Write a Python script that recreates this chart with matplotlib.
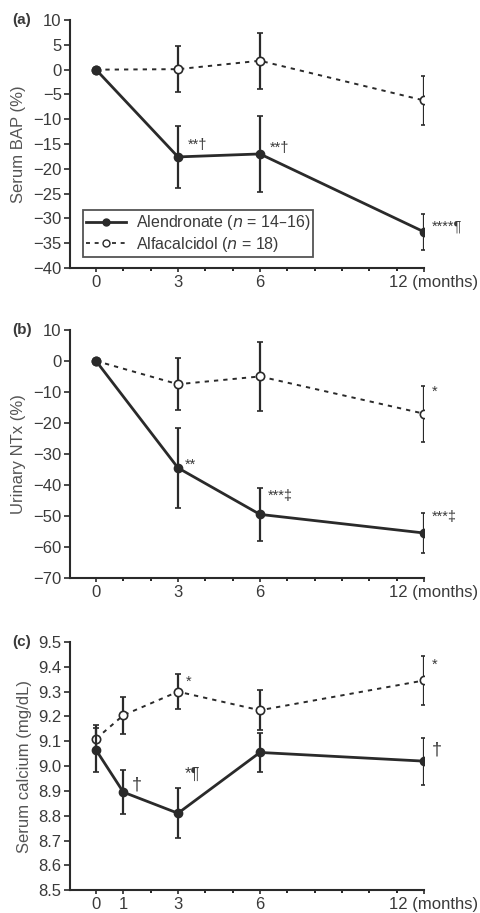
import numpy as np
import matplotlib.pyplot as plt
from matplotlib.ticker import MultipleLocator
from matplotlib.lines import Line2D

plt.rcParams['font.family'] = ['Liberation Sans Narrow', 'Liberation Sans', 'DejaVu Sans']

# months
months_ab = [0, 3, 6, 12]
months_c = [0, 1, 3, 6, 12]

# (a) serum BAP (%)
bap_alen = [0, -17.6, -17.0, -32.7]
bap_alen_err = [0, 6.2, 7.6, 3.6]
bap_alfa = [0, 0.1, 1.8, -6.2]
bap_alfa_err = [0, 4.6, 5.6, 4.9]

# (b) urinary NTx (%)
ntx_alen = [0, -34.5, -49.5, -55.5]
ntx_alen_err = [0, 13.0, 8.5, 6.5]
ntx_alfa = [0, -7.5, -5.0, -17.0]
ntx_alfa_err = [0, 8.3, 11.0, 9.0]

# (c) serum calcium (mg/dL)
ca_alen = [9.065, 8.895, 8.81, 9.055, 9.02]
ca_alen_err = [0.09, 0.09, 0.1, 0.08, 0.095]
ca_alfa = [9.11, 9.205, 9.30, 9.225, 9.345]
ca_alfa_err = [0.055, 0.075, 0.07, 0.08, 0.1]

dark = '#2a2a2a'
txt = '#3a3a3a'
dash = (0, (2.2, 2.6))

fig = plt.figure(figsize=(4.8, 9.13), dpi=100)
fig.patch.set_facecolor('white')

ax_a = fig.add_axes([0.146, 0.7065, 0.737, 0.2715])
ax_b = fig.add_axes([0.146, 0.367, 0.737, 0.2716])
ax_c = fig.add_axes([0.146, 0.025, 0.737, 0.2718])


def style(ax, ylim, ystep, xt, ylabel, tag, fmt):
    ax.set_xlim(-0.95, 12)
    ax.set_ylim(*ylim)
    ax.spines['top'].set_visible(False)
    ax.spines['right'].set_visible(False)
    for s in ['left', 'bottom']:
        ax.spines[s].set_color(dark)
        ax.spines[s].set_linewidth(1.5)
    ax.set_yticks(np.arange(ylim[0], ylim[1] + ystep / 2, ystep))
    ax.yaxis.set_major_formatter(fmt)
    ax.set_xticks(xt)
    # the last tick gets its label together with the unit, drawn below
    ax.set_xticklabels([str(v) for v in xt[:-1]] + [''])
    ax.xaxis.set_minor_locator(MultipleLocator(1))
    ax.tick_params(axis='both', colors=dark, labelcolor=txt, labelsize=12, width=1.2)
    ax.tick_params(axis='y', length=4, pad=2)
    ax.tick_params(axis='x', which='major', length=3, pad=2)
    ax.tick_params(axis='x', which='minor', length=2.5, width=1.2)
    ax.set_ylabel(ylabel, fontsize=12, color='#555555', labelpad=5)
    pos = ax.get_position()
    fig.text(12 / 480, pos.y1, tag, fontsize=11, fontweight='bold',
             color=txt, ha='left', va='center')
    fig.text(478 / 480, pos.y0 - 7 / 913, str(xt[-1]) + ' (months)', fontsize=12,
             color=txt, ha='right', va='top')


def draw(ax, x, alen, alen_err, alfa, alfa_err):
    ax.errorbar(x, alfa, yerr=alfa_err, color=dark, ls=dash, lw=1.4,
                marker='o', ms=6, mfc='white', mec=dark, mew=1.2,
                elinewidth=1.6, capsize=2, capthick=1.2, zorder=3)
    ax.errorbar(x, alen, yerr=alen_err, color=dark, ls='-', lw=2,
                marker='o', ms=6, mfc=dark, mec=dark,
                elinewidth=1.6, capsize=2, capthick=1.2, zorder=4)


def ann(ax, x, y, s, size=10.5):
    ax.text(x, y, s, fontsize=size, color=txt, ha='left', va='center')


# (a)
draw(ax_a, months_ab, bap_alen, bap_alen_err, bap_alfa, bap_alfa_err)
style(ax_a, (-40, 10), 5, [0, 3, 6, 12], 'Serum BAP (%)', '(a)', '{x:.0f}')
ann(ax_a, 3.35, -15.2, '**†')
ann(ax_a, 6.35, -15.8, '**†')
ann(ax_a, 12.3, -31.6, '****¶')
handles = [Line2D([], [], color=dark, lw=2, marker='o', ms=5, mfc=dark),
           Line2D([], [], color=dark, lw=1.3, ls=dash, marker='o', ms=5, mfc='white')]
labels = [r'Alendronate ($n$ = 14–16)', r'Alfacalcidol ($n$ = 18)']
leg = ax_a.legend(handles, labels, loc='lower left', bbox_to_anchor=(0.037, 0.045),
                  fontsize=11.5, frameon=True, fancybox=False, borderpad=0.2,
                  handlelength=2.5, handletextpad=0.6, labelspacing=0.15,
                  borderaxespad=0)
leg.get_frame().set_edgecolor(dark)
leg.get_frame().set_linewidth(1.3)
for t in leg.get_texts():
    t.set_color(txt)

# (b)
draw(ax_b, months_ab, ntx_alen, ntx_alen_err, ntx_alfa, ntx_alfa_err)
style(ax_b, (-70, 10), 10, [0, 3, 6, 12], 'Urinary NTx (%)', '(b)', '{x:.0f}')
ann(ax_b, 3.25, -33.5, '**')
ann(ax_b, 6.3, -43.5, '***‡')
ann(ax_b, 12.3, -50.5, '***‡')
ann(ax_b, 12.3, -10.0, '*')

# (c)
draw(ax_c, months_c, ca_alen, ca_alen_err, ca_alfa, ca_alfa_err)
style(ax_c, (8.5, 9.5), 0.1, [0, 1, 3, 6, 12], 'Serum calcium (mg/dL)', '(c)', '{x:.1f}')
ann(ax_c, 1.3, 8.925, '†', 13)
ann(ax_c, 3.25, 8.965, '*¶', 12)
ann(ax_c, 3.3, 9.34, '*')
ann(ax_c, 12.3, 9.065, '†', 13)
ann(ax_c, 12.3, 9.41, '*')

fig.savefig('out.png', dpi=100)
